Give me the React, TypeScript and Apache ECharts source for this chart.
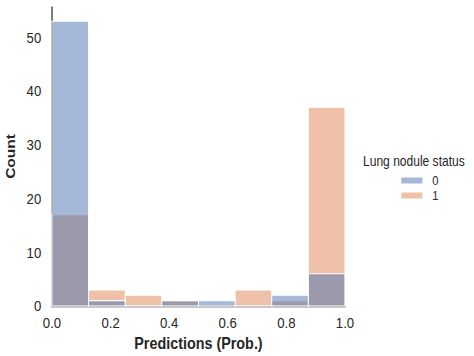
import React, { useEffect, useRef } from "react";
import * as echarts from "echarts";

const binEdges = [0, 0.125, 0.25, 0.375, 0.5, 0.625, 0.75, 0.875, 1.0];
const countsStatus0 = [53, 1, 0, 1, 1, 0, 2, 6];
const countsStatus1 = [17, 3, 2, 1, 0, 3, 1, 37];
const yMax = 55.65;

const FONT = "'Liberation Sans', Arial, sans-serif";
const TXT = "#262626";
const BLUE = "rgba(76,114,176,0.5)";
const ORANGE = "rgba(221,132,82,0.5)";

// The reference figure is horizontally compressed; the chart is drawn wider and squeezed.
const OUT_W = 474;
const OUT_H = 356;
const INNER_W = 551;
const SX = OUT_W / INNER_W;

function toData(counts: number[]) {
  return counts.map((c, i) => [binEdges[i], binEdges[i + 1], c]);
}

function renderBar(color: string) {
  return (params: any, api: any) => {
    const x0 = api.value(0);
    const x1 = api.value(1);
    const c = api.value(2);
    const p0 = api.coord([x0, c]);
    const p1 = api.coord([x1, 0]);
    return {
      type: "rect",
      shape: { x: p0[0], y: p0[1], width: p1[0] - p0[0], height: p1[1] - p0[1] },
      style: { fill: color, stroke: "#ffffff", lineWidth: 1.1 },
    };
  };
}

export default function App() {
  const ref = useRef<HTMLDivElement>(null);
  useEffect(() => {
    document.body.style.margin = "0";
    const chart = echarts.init(ref.current!, null, { renderer: "svg" });
    chart.setOption({
      animation: false,
      backgroundColor: "#ffffff",
      textStyle: { fontFamily: FONT },
      grid: {
        left: 60.4,
        right: 150,
        top: 7,
        bottom: 50,
        containLabel: false,
        outerBoundsMode: "none",
      },
      xAxis: {
        type: "value",
        min: 0,
        max: 1,
        interval: 0.2,
        name: "Predictions (Prob.)",
        nameLocation: "middle",
        nameGap: 25,
        nameTextStyle: { fontSize: 16.7, fontWeight: "bold", color: TXT, fontFamily: FONT },
        axisLine: { show: true, lineStyle: { color: TXT, width: 1.4 } },
        axisTick: { show: false },
        splitLine: { show: false },
        axisLabel: {
          fontSize: 15.3,
          color: TXT,
          margin: 9,
          fontFamily: FONT,
          formatter: (v: number) => v.toFixed(1),
        },
      },
      yAxis: {
        type: "value",
        min: 0,
        max: yMax,
        interval: 10,
        name: "Count",
        nameLocation: "middle",
        nameGap: 36,
        nameTextStyle: { fontSize: 15.5, fontWeight: "bold", color: TXT, fontFamily: FONT },
        axisLine: { show: true, lineStyle: { color: TXT, width: 1.4 } },
        axisTick: { show: false },
        splitLine: { show: false },
        axisLabel: {
          fontSize: 15.3,
          color: TXT,
          margin: 12.5,
          fontFamily: FONT,
          showMaxLabel: false,
          formatter: (v: number) => (v % 10 === 0 ? String(v) : ""),
        },
      },
      legend: {
        orient: "vertical",
        left: 461.5,
        top: 169,
        icon: "rect",
        itemWidth: 24.5,
        itemHeight: 6,
        itemGap: 2,
        textStyle: { fontSize: 13, color: TXT, fontFamily: FONT, padding: [0, 0, 0, 6.5] },
        data: [
          { name: "0", itemStyle: { color: BLUE } },
          { name: "1", itemStyle: { color: ORANGE } },
        ],
      },
      graphic: [
        {
          type: "text",
          left: 422,
          top: 154,
          style: { text: "Lung nodule status", fontSize: 14, fill: TXT, fontFamily: FONT },
        },
      ],
      series: [
        {
          name: "1",
          type: "custom",
          itemStyle: { color: ORANGE },
          renderItem: renderBar(ORANGE),
          encode: { x: [0, 1], y: 2 },
          data: toData(countsStatus1),
          z: 1,
        },
        {
          name: "0",
          type: "custom",
          itemStyle: { color: BLUE },
          renderItem: renderBar(BLUE),
          encode: { x: [0, 1], y: 2 },
          data: toData(countsStatus0),
          z: 2,
        },
      ],
    });
    return () => chart.dispose();
  }, []);
  return (
    <div style={{ width: OUT_W, height: OUT_H, overflow: "hidden", position: "relative" }}>
      <div
        ref={ref}
        style={{
          width: INNER_W,
          height: OUT_H,
          transform: `scale(${SX}, 1)`,
          transformOrigin: "0 0",
        }}
      />
    </div>
  );
}
